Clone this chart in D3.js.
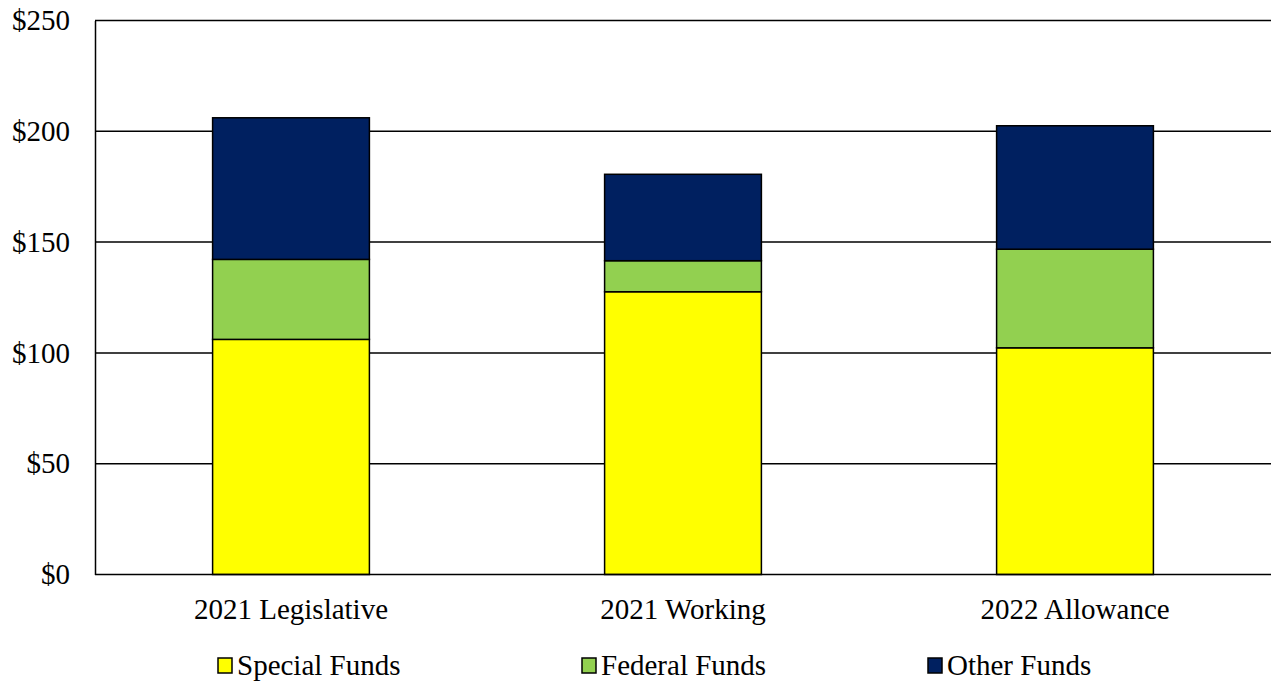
<!DOCTYPE html>
<html>
<head>
<meta charset="utf-8">
<script src="https://cdn.jsdelivr.net/npm/d3@7"></script>
<style>
  body { margin: 0; background: #fff; }
  text { font-family: "Liberation Serif", "Times New Roman", serif; fill: #000; }
</style>
</head>
<body>
<div id="chart"></div>
<script>
const w = 1271;
const h = 682;

const categories = ["2021 Legislative", "2021 Working", "2022 Allowance"];
const seriesNames = ["Special Funds", "Federal Funds", "Other Funds"];
const specialFunds = [106.1, 127.6, 102.3];
const federalFunds = [36.1, 14.0, 44.5];
const otherFunds = [63.9, 39.0, 55.7];
const yTicks = [0, 50, 100, 150, 200, 250];
const colors = ["#FFFF00", "#92D050", "#002060"];

const margin = {top: 20.5, right: 0, bottom: 107.5, left: 95};
const innerW = w - margin.left - margin.right;
const innerH = h - margin.top - margin.bottom;
const fontSize = 29;

let svg = d3.select('#chart')
	.append('svg')
		.attr('width', w)
		.attr('height', h);

let g = svg.append('g')
	.attr('transform', `translate(${margin.left},${margin.top})`);

let rows = categories.map((c, i) => ({
	cat: c,
	"Special Funds": specialFunds[i],
	"Federal Funds": federalFunds[i],
	"Other Funds": otherFunds[i]
}));

let stacked = d3.stack().keys(seriesNames)(rows);

let xScale = d3.scaleBand()
	.domain(categories)
	.range([0, innerW])
	.paddingInner(0.6)
	.paddingOuter(0.3);

let yScale = d3.scaleLinear()
	.domain([0, 250])
	.range([innerH, 0]);

// gridlines
g.append('g')
	.selectAll('line')
	.data(yTicks.filter(d => d > 0))
	.enter()
	.append('line')
	.attr('x1', 0)
	.attr('x2', innerW)
	.attr('y1', d => yScale(d))
	.attr('y2', d => yScale(d))
	.attr('stroke', '#000')
	.attr('stroke-width', 1.5);

// bars
g.selectAll('g.series')
	.data(stacked)
	.enter()
	.append('g')
	.attr('class', 'series')
	.attr('fill', (d, i) => colors[i])
	.selectAll('rect')
	.data(d => d)
	.enter()
	.append('rect')
	.attr('x', d => xScale(d.data.cat))
	.attr('width', xScale.bandwidth())
	.attr('y', d => yScale(d[1]))
	.attr('height', d => yScale(d[0]) - yScale(d[1]))
	.attr('stroke', '#000')
	.attr('stroke-width', 1.5);

// y axis
let yAxis = g.append('g')
	.call(d3.axisLeft(yScale).tickValues(yTicks).tickSize(0).tickPadding(25).tickFormat(d => '$' + d));
yAxis.select('.domain').attr('stroke', '#000').attr('stroke-width', 1.5);
yAxis.selectAll('text').attr('font-size', fontSize).attr('font-family', 'Liberation Serif');

// x axis
let xAxis = g.append('g')
	.attr('transform', `translate(0,${innerH})`)
	.call(d3.axisBottom(xScale).tickSize(0).tickPadding(24));
xAxis.select('.domain').attr('stroke', '#000').attr('stroke-width', 1.5).attr('d', `M0,0H${innerW}`);
xAxis.selectAll('text').attr('font-size', fontSize).attr('font-family', 'Liberation Serif');

// legend
const legendX = [218, 582, 928];
let legend = svg.append('g');
seriesNames.forEach((name, i) => {
	let item = legend.append('g').attr('transform', `translate(${legendX[i]},658)`);
	item.append('rect')
		.attr('width', 14)
		.attr('height', 15)
		.attr('fill', colors[i])
		.attr('stroke', '#000')
		.attr('stroke-width', 1.5);
	item.append('text')
		.attr('x', 19)
		.attr('y', 17)
		.attr('font-size', fontSize)
		.text(name);
});
</script>
</body>
</html>
